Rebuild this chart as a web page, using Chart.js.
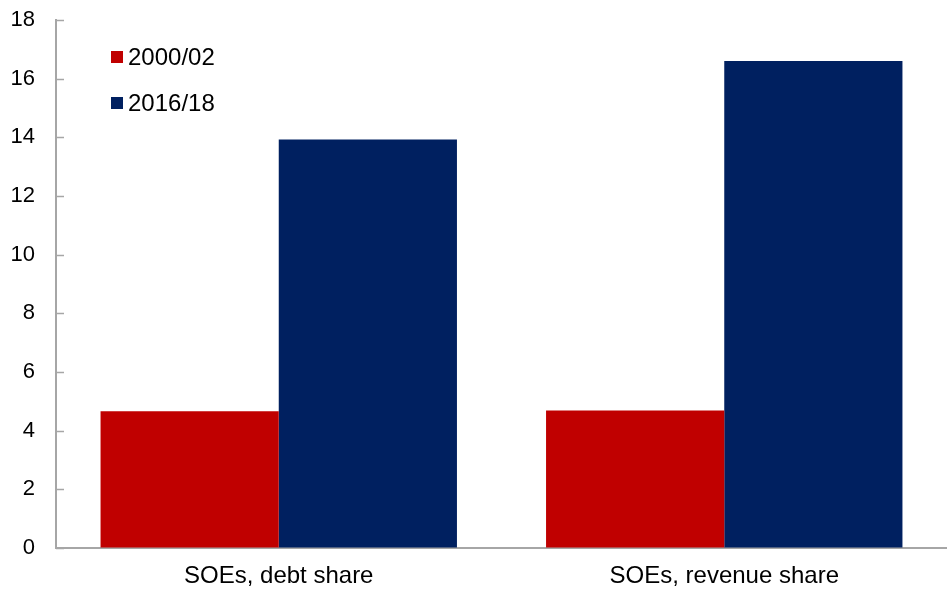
<!DOCTYPE html>
<html>
<head>
<meta charset="utf-8">
<script src="https://cdn.jsdelivr.net/npm/chart.js@4.4.1/dist/chart.umd.min.js"></script>
<style>
  html, body { margin: 0; padding: 0; background: #ffffff; }
  #wrap { width: 947px; height: 590px; }
</style>
</head>
<body>
<div id="wrap"><canvas id="c" width="947" height="590"></canvas></div>
<script>
const categories = ["SOEs, debt share", "SOEs, revenue share"];
const seriesLabels = ["2000/02", "2016/18"];
const values2000 = [4.66, 4.69];
const values2016 = [13.93, 16.60];
const yTicks = [0, 2, 4, 6, 8, 10, 12, 14, 16, 18];

const FONT = "'Liberation Sans', Arial, sans-serif";
const AXIS_COLOR = '#A6A6A6';

const insideLegend = {
  id: 'insideLegend',
  afterDraw(chart) {
    const ctx = chart.ctx;
    const x0 = 111, ys = [57, 103];
    ctx.save();
    chart.data.datasets.forEach((ds, i) => {
      ctx.fillStyle = ds.backgroundColor;
      ctx.fillRect(x0, ys[i] - 6, 12, 12);
      ctx.fillStyle = '#000000';
      ctx.font = "24px " + FONT;
      ctx.textBaseline = 'middle';
      ctx.textAlign = 'left';
      ctx.fillText(ds.label, x0 + 17, ys[i] + 1);
    });
    ctx.restore();
  }
};

const innerTicks = {
  id: 'innerTicks',
  afterDatasetsDraw(chart) {
    const ctx = chart.ctx;
    const y = chart.scales.y;
    const left = chart.chartArea.left;
    ctx.save();
    ctx.strokeStyle = AXIS_COLOR;
    ctx.lineWidth = 1.5;
    y.ticks.forEach(t => {
      const py = Math.round(y.getPixelForValue(t.value)) + 0.5;
      ctx.beginPath();
      ctx.moveTo(left, py);
      ctx.lineTo(left + 8, py);
      ctx.stroke();
    });
    ctx.restore();
  }
};

new Chart(document.getElementById('c'), {
  type: 'bar',
  data: {
    labels: categories,
    datasets: [
      { label: seriesLabels[0], data: values2000, backgroundColor: '#C00000', borderWidth: 0 },
      { label: seriesLabels[1], data: values2016, backgroundColor: '#002060', borderWidth: 0 }
    ]
  },
  options: {
    responsive: false,
    animation: false,
    devicePixelRatio: 1,
    layout: { padding: 0 },
    datasets: { bar: { categoryPercentage: 0.8, barPercentage: 1.0 } },
    plugins: {
      legend: { display: false },
      tooltip: { enabled: false }
    },
    scales: {
      x: {
        afterFit(scale) { scale.height = 42; scale.paddingLeft = 0; scale.paddingRight = 0; },
        grid: { display: false, drawTicks: false },
        border: { display: true, color: AXIS_COLOR, width: 2 },
        ticks: { color: '#000000', font: { family: FONT, size: 24 }, padding: 14, maxRotation: 0 }
      },
      y: {
        min: 0, max: 18,
        afterBuildTicks(scale) { scale.ticks = yTicks.map(v => ({ value: v })); },
        afterFit(scale) { scale.width = 56; scale.paddingTop = 20; scale.paddingBottom = 0; },
        grid: { drawOnChartArea: false, drawTicks: false },
        border: { display: true, color: AXIS_COLOR, width: 2 },
        ticks: { color: '#000000', font: { family: FONT, size: 22 }, padding: 21 }
      }
    }
  },
  plugins: [innerTicks, insideLegend]
});
</script>
</body>
</html>
